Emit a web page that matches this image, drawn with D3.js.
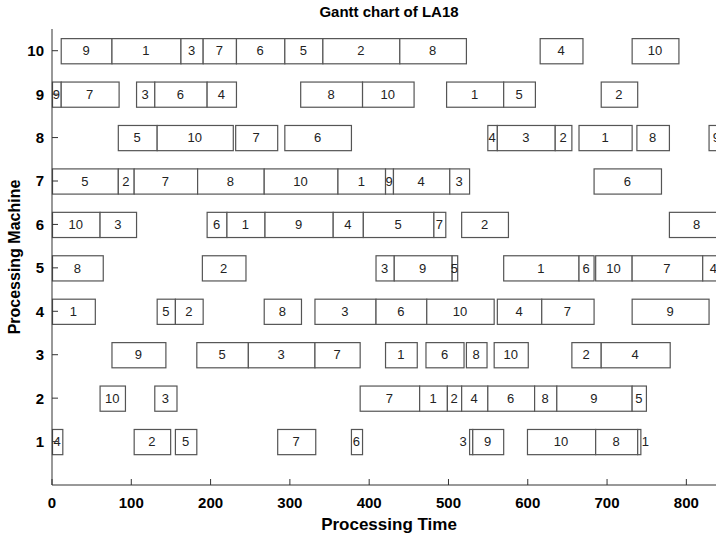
<!DOCTYPE html>
<html>
<head>
  <meta charset="utf-8">
  <script src="https://d3js.org/d3.v7.min.js"></script>
  <style>
    body { margin: 0; background: #fff; }
    .narrow { font-family: "Liberation Sans Narrow", "Arial Narrow", "Liberation Sans", sans-serif; }
  </style>
</head>
<body>
  <div id="chart"></div>
  <script>
    // one list per machine: [job, start, end]
    var m1 = [[4, 0, 13], [2, 103, 149], [5, 155, 182], [7, 284, 332], [6, 377, 391], [3, 526, 530], [9, 530, 569], [10, 599, 685], [8, 685, 738], [1, 738, 742]];
    var m2 = [[10, 60, 92], [3, 129, 157], [7, 388, 463], [1, 463, 498], [2, 498, 516], [4, 516, 549], [6, 549, 608], [8, 608, 636], [9, 636, 731], [5, 731, 749]];
    var m3 = [[9, 75, 143], [5, 182, 247], [3, 247, 331], [7, 331, 388], [1, 420, 460], [6, 471, 519], [8, 522, 548], [10, 557, 600], [2, 655, 692], [4, 692, 779]];
    var m4 = [[1, 0, 54], [5, 132, 155], [2, 155, 190], [8, 267, 314], [3, 331, 408], [6, 408, 472], [10, 472, 557], [4, 561, 617], [7, 617, 683], [9, 731, 828]];
    var m5 = [[8, 0, 64], [2, 189, 244], [3, 408, 431], [9, 431, 504], [5, 504, 511], [1, 569, 664], [6, 664, 683], [10, 685, 731], [7, 731, 820], [4, 820, 848]];
    var m6 = [[10, 0, 60], [3, 60, 106], [6, 195, 220], [1, 220, 268], [9, 268, 354], [4, 354, 392], [5, 392, 481], [7, 481, 496], [2, 516, 575], [8, 778, 848]];
    var m7 = [[5, 0, 83], [2, 83, 103], [7, 103, 183], [8, 183, 267], [10, 267, 360], [1, 360, 420], [9, 420, 430], [4, 430, 501], [3, 501, 526], [6, 683, 768]];
    var m8 = [[5, 83, 132], [10, 132, 228], [7, 231, 284], [6, 293, 377], [4, 549, 561], [3, 561, 634], [2, 634, 655], [1, 664, 731], [8, 737, 778], [9, 828, 848]];
    var m9 = [[9, 0, 11], [7, 11, 84], [3, 106, 129], [6, 129, 195], [4, 195, 232], [8, 313, 391], [10, 391, 456], [1, 497, 569], [5, 569, 609], [2, 692, 738]];
    var m10 = [[9, 11, 75], [1, 75, 162], [3, 162, 190], [7, 190, 232], [6, 232, 293], [5, 293, 341], [2, 341, 438], [8, 438, 522], [4, 615, 669], [10, 731, 790]];

    var machines = [m1, m2, m3, m4, m5, m6, m7, m8, m9, m10];
    var xTicks = [0, 100, 200, 300, 400, 500, 600, 700, 800];
    var yTicks = [1, 2, 3, 4, 5, 6, 7, 8, 9, 10];

    var width = 716, height = 535;
    var tasks = [];
    machines.forEach(function(list, i) {
      list.forEach(function(t) {
        tasks.push({ machine: i + 1, job: t[0], start: t[1], end: t[2] });
      });
    });

    var x = d3.scaleLinear().domain([0, 850]).range([52, 726]);
    var y = d3.scaleLinear().domain([0, 10.5]).range([485, 29]);
    var boxH = y(0) - y(0.58);

    var svg = d3.select('#chart').append('svg')
      .attr('width', width)
      .attr('height', height);

    // boxes
    var g = svg.selectAll('.task')
      .data(tasks)
      .enter().append('g')
      .attr('class', 'task');

    g.append('rect')
      .attr('x', function(d) { return x(d.start) + 0.5; })
      .attr('y', function(d) { return y(d.machine) - boxH / 2 + 0.5; })
      .attr('width', function(d) { return x(d.end) - x(d.start); })
      .attr('height', boxH)
      .attr('fill', '#fff')
      .attr('stroke', '#555')
      .attr('stroke-width', 1.2);

    g.append('text')
      .attr('x', function(d) {
        var w = d.end - d.start;
        if (w >= 5) return x((d.start + d.end) / 2);
        // very short operations: label beside the box
        var next = tasks.find(function(o) { return o.machine == d.machine && o.start == d.end; });
        return next ? x(d.start) - 6 : x(d.end) + 5;
      })
      .attr('y', function(d) { return y(d.machine); })
      .attr('dy', '0.36em')
      .attr('text-anchor', 'middle')
      .style('font-family', '"Liberation Sans", Arial, sans-serif')
      .style('font-size', '13px')
      .attr('fill', '#222')
      .text(function(d) { return d.job; });

    // axes
    var xAxis = svg.append('g').attr('transform', 'translate(0,' + y(0) + ')');
    xAxis.append('line')
      .attr('x1', x(0)).attr('x2', width)
      .attr('stroke', '#333');
    xAxis.selectAll('.xt')
      .data(xTicks).enter().append('line')
      .attr('x1', function(d) { return x(d); })
      .attr('x2', function(d) { return x(d); })
      .attr('y1', 0).attr('y2', -6)
      .attr('stroke', '#333');
    xAxis.selectAll('.xl')
      .data(xTicks).enter().append('text')
      .attr('class', 'narrow')
      .attr('x', function(d) { return x(d); })
      .attr('y', 23)
      .attr('text-anchor', 'middle')
      .style('font-size', '15px')
      .style('font-weight', 'bold')
      .text(function(d) { return d; });

    var yAxis = svg.append('g').attr('transform', 'translate(' + x(0) + ',0)');
    yAxis.append('line')
      .attr('y1', y(0)).attr('y2', y(10.5))
      .attr('stroke', '#333');
    yAxis.selectAll('.yt')
      .data(yTicks).enter().append('line')
      .attr('y1', function(d) { return y(d); })
      .attr('y2', function(d) { return y(d); })
      .attr('x1', 0).attr('x2', 6)
      .attr('stroke', '#333');
    yAxis.selectAll('.yl')
      .data(yTicks).enter().append('text')
      .attr('class', 'narrow')
      .attr('x', -8)
      .attr('y', function(d) { return y(d); })
      .attr('dy', '0.36em')
      .attr('text-anchor', 'end')
      .style('font-size', '15px')
      .style('font-weight', 'bold')
      .text(function(d) { return d; });

    // titles
    svg.append('text')
      .attr('class', 'narrow')
      .attr('x', (x(0) + x(850)) / 2)
      .attr('y', 17)
      .attr('text-anchor', 'middle')
      .style('font-size', '15px')
      .style('font-weight', 'bold')
      .text('Gantt chart of LA18');

    svg.append('text')
      .attr('class', 'narrow')
      .attr('x', (x(0) + x(850)) / 2)
      .attr('y', 530)
      .attr('text-anchor', 'middle')
      .style('font-size', '17px')
      .style('font-weight', 'bold')
      .text('Processing Time');

    svg.append('text')
      .attr('class', 'narrow')
      .attr('transform', 'translate(20,' + 257 + ') rotate(-90)')
      .attr('text-anchor', 'middle')
      .style('font-size', '16px')
      .style('font-weight', 'bold')
      .text('Processing Machine');
  </script>
</body>
</html>
